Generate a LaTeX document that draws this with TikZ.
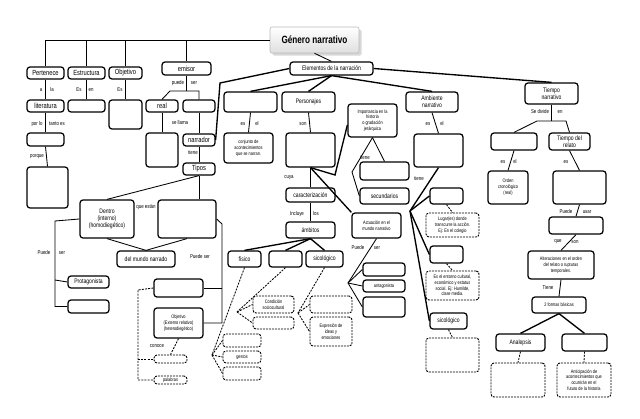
\documentclass[tikz,border=0pt]{standalone}
\usepackage{fontspec}
\setmainfont{Liberation Sans}[FakeStretch=0.78]
\usetikzlibrary{shadows}
\newcommand\BX[7][]{%
  \pgfmathsetmacro\BXw{#5-#3}%
  \pgfmathsetmacro\BXh{#6-#4}%
  \pgfmathsetmacro\BXx{(#3+#5)/2}%
  \pgfmathsetmacro\BXy{(#4+#6)/2}%
  \node[box,minimum width=\BXw pt,minimum height=\BXh pt,#1] (#2) at (\BXx,\BXy) {#7};}
\tikzset{
 box/.style={draw, rounded corners=3pt, line width=1.25pt, align=center, inner sep=0.5pt, font=\fontsize{6.5}{7}\selectfont},
 big/.style={font=\fontsize{7.4}{8}\selectfont},
 sm/.style={font=\fontsize{5}{5.8}\selectfont},
 dbox/.style={dash pattern=on 2pt off 1pt, line width=0.95pt},
 lab/.style={font=\fontsize{5.6}{5.6}\selectfont, inner sep=0pt},
 conn/.style={line width=0.85pt},
 tconn/.style={line width=1.35pt},
 dconn/.style={line width=0.85pt, dash pattern=on 2pt off 1.2pt},
 title/.style={rounded corners=2pt, draw=gray!55, line width=0.6pt, top color=white, bottom color=gray!25, drop shadow={opacity=0.3}, font=\bfseries\fontsize{10.5}{11}\selectfont},
}
\begin{document}
\begin{tikzpicture}[x=1pt,y=-1pt]
\useasboundingbox[fill=white] (0,0) rectangle (640,419);
% ---------- boxes ----------
\BX[title]{gen}{270}{27}{359}{53}{Género narrativo}
\BX[big]{pert}{27}{67}{64}{79}{Pertenece}
\BX[big]{estr}{68}{67}{105}{79}{Estructura}
\BX[big]{obj}{109}{67}{142}{79}{Objetivo}
\BX[big]{emi}{162}{62}{211}{75}{emisor}
\BX[big]{lit}{27}{100}{64}{112}{literatura}
\BX{estr2}{68}{100}{105}{112}{}
\BX{obj2}{109}{100}{142}{129}{}
\BX[big]{real}{146}{100}{178}{112}{real}
\BX{emi2}{183}{100}{215}{112}{}
\BX{lit2}{27}{133}{64}{146}{}
\BX{lit3}{27}{167}{68}{208}{}
\BX{real2}{146}{133}{178}{167}{}
\BX[big]{narr}{183}{134}{215}{146}{narrador}
\BX[big]{tipos}{183}{163}{215}{175}{Tipos}
\BX{dentro}{80}{200}{134}{238}{Dentro\\(interno)\\(homodiegético)}
\BX{fuera}{158}{200}{216}{238}{}
\BX{mundo}{117}{251}{175}{267}{del mundo narrado}
\BX{prot}{68}{276}{109}{288}{Protagonista}
\BX{dent2}{68}{300}{109}{313}{}
\BX{fuera2}{154}{279}{203}{297}{}
\BX[sm]{objet}{154}{308}{203}{338}{Objetivo\\(Externo relativo)\\(heterodiegético)}
\BX[dbox]{d1}{154}{355}{187}{363}{}
\BX[dbox,sm]{pal}{154}{376}{187}{384}{palabras}
% elementos
\BX{elem}{290}{62}{373}{75}{Elementos de la narración}
\BX{acc}{224}{92}{277}{112}{}
\BX{pers}{282}{92}{335}{112}{Personajes}
\BX[sm]{conj}{224}{133}{273}{163}{conjunto de\\acontecimientos\\que se narran.}
\BX{pers2}{286}{133}{335}{167}{}
\BX{car}{286}{188}{335}{202}{caracterización}
\BX{ambi}{286}{222}{335}{238}{ámbitos}
\BX[sm]{imp}{348}{104}{397}{137}{Importancia en la\\historia\\o gradación\\jerárquica}
\BX{t1}{360}{162}{409}{180}{}
\BX{sec}{360}{188}{409}{204}{secundarios}
\BX[sm]{actu}{352}{213}{401}{238}{Actuación en el\\mundo narrativo}
\BX{a1}{363}{263}{405}{276}{}
\BX[sm]{ant}{363}{280}{405}{292}{antagonista}
\BX{a3}{363}{297}{405}{317}{}
\BX{fis}{228}{251}{261}{267}{físico}
\BX{mid}{269}{251}{302}{267}{}
\BX{sic}{306}{251}{343}{267}{sicológico}
\BX[dbox]{g1}{223}{334}{261}{347}{}
\BX[dbox,sm]{gest}{223}{351}{261}{363}{gestos}
\BX[dbox]{g3}{223}{367}{261}{380}{}
\BX[dbox,sm]{cond}{253}{296}{294}{313}{Condición\\sociocultural}
\BX[dbox]{c2}{253}{317}{294}{329}{}
\BX[dbox]{s1}{310}{296}{352}{313}{}
\BX[dbox,sm]{expr}{310}{317}{352}{346}{Expresión de\\ideas y\\emociones}
% ambiente
\BX{amb}{406}{92}{458}{112}{Ambiente\\narrativo}
\BX{amb2}{414}{134}{463}{167}{}
\BX{b1}{430}{188}{463}{204}{}
\BX[dbox,sm]{lugar}{426}{213}{479}{237}{Lugar(es) donde\\transcurre la acción.\\Ej: En el colegio}
\BX{b2}{430}{246}{463}{263}{}
\BX[dbox,sm]{entorno}{426}{271}{479}{300}{Es el entorno cultural,\\económico y estatus\\social. Ej: Humilde,\\clase media.}
\BX{sic2}{430}{313}{467}{329}{sicológico}
\BX[dbox]{sd}{426}{338}{479}{372}{}
% tiempo
\BX{tiem}{525}{83}{578}{104}{Tiempo\\narrativo}
\BX{tl}{491}{133}{537}{150}{}
\BX{trel}{549}{133}{590}{150}{Tiempo del\\relato}
\BX[sm]{orden}{488}{171}{528}{204}{Orden\\cronológico\\(real)}
\BX{tr2}{553}{171}{606}{204}{}
\BX{pu}{549}{217}{603}{234}{}
\BX[sm]{alt}{528}{251}{594}{279}{Alteraciones en el orden\\del relato o rupturas\\temporales.}
\BX[sm]{dos}{532}{297}{586}{313}{2 formas básicas}
\BX{ana}{496}{334}{545}{351}{Analepsis}
\BX{pro}{562}{334}{607}{351}{}
\BX[dbox]{ad}{491}{363}{545}{397}{}
\BX[dbox,sm]{antic}{557}{363}{611}{397}{Anticipación de\\acontecimientos que\\ocurrirán en el\\futuro de la historia}
% ---------- coordinates ----------
\coordinate (ev) at (186.5,91);
\coordinate (eh1) at (170,91);
\coordinate (eh2) at (199,91);
\coordinate (k3) at (220,83);
\coordinate (kd) at (55,221);
\coordinate (kd2) at (55,306.5);
\coordinate (kd3) at (55,280);
\coordinate (kf) at (222,224);
\coordinate (kf2) at (222,323);
\coordinate (kf3) at (222,288);
\coordinate (kx) at (138,290);
\coordinate (kx2) at (138,380);
\coordinate (kx3) at (138,359);
\coordinate (k1) at (335,175);
\coordinate (k2) at (352,172);
\coordinate (hubA) at (348,283);
\coordinate (hubF) at (212,355);
\coordinate (hubM) at (237,312);
\coordinate (hubS) at (298,313);
\coordinate (hubB) at (410,211);
\coordinate (tv) at (551.5,121);
\coordinate (ta) at (537,121);
\coordinate (tb) at (566,121);
% ---------- connectors ----------
\draw[conn] (gen.west) -- (gen.west -| pert.north) -- (pert.north);
\foreach \n in {estr,obj,emi} \draw[conn] (gen.west -| \n.north) -- (\n.north);
\draw[conn] (pert.south) -- (lit.north);
\draw[conn] (estr.south) -- (estr2.north);
\draw[conn] (obj.south) -- (obj2.north);
\draw[conn] (emi.south) -- (ev);
\draw[conn] (real.north) -- (eh1) -- (eh2) -- (emi2.north);
\draw[conn] (real.south) -- (real2.north);
\draw[conn] (emi2.south) -- (narr.north);
\draw[conn] (narr.south) -- (tipos.north);
\draw[conn] (lit.south) -- (lit2.north);
\draw[conn] (lit2.south) -- (lit3.north);
\draw[conn] (tipos.south) -- (tipos.south |- fuera.north);
\draw[conn] (tipos.south) -- (dentro.north);
\draw[conn] (dentro.south) -- (mundo.north);
\draw[conn] (fuera.south) -- (mundo.north);
\draw[conn] (dentro.west) -- (kd) -- (kd2) -- (dent2.west);
\draw[conn] (kd3) -- (prot.west);
\draw[conn] (fuera.east) -- (kf) -- (kf2) -- (objet.east);
\draw[conn] (kf3) -- (fuera2.east);
\draw[dconn] (fuera2.west) -- (kx) -- (kx2) -- (pal.west);
\draw[dconn] (kx3) -- (d1.west);
\draw[dconn] (objet.south) -- (d1.north);
% elementos
\draw[conn] (gen.south) -- (elem.north);
\draw[tconn] (elem.west) -- (k3) -- (narr.east);
\draw[tconn] (elem.south) -- (acc.north);
\draw[tconn] (elem.south) -- (pers.north);
\draw[tconn] (elem.south) -- (amb.north);
\draw[tconn] (elem.east) -- (tiem.north);
\draw[conn] (acc.south) -- (conj.north);
\draw[conn] (pers.south) -- (pers2.north);
\draw[conn] (pers2.south) -- (car.north);
\draw[conn] (car.south) -- (ambi.north);
\draw[tconn] (pers2.south) -- (k1) -- (imp.190);
\draw[tconn] (pers2.south) -- (actu.north west);
\draw[conn] (imp.south) -- (t1.north);
\draw[conn] (imp.south) -- (k2) -- (sec.west);
\draw[conn] (actu.south) -- (hubA);
\foreach \n in {a1,ant,a3} \draw[conn] (hubA) -- (\n.west);
\foreach \n in {fis,mid,sic} \draw[tconn] (ambi.south) -- (\n.north);
\draw[dconn] (fis.south) -- (hubF);
\foreach \n in {g1,gest,g3} \draw[dconn] (hubF) -- (\n.west);
\draw[dconn] (mid.south) -- (hubM);
\foreach \n in {cond,c2} \draw[dconn] (hubM) -- (\n.west);
\draw[dconn] (sic.south) -- (hubS);
\foreach \n in {s1,expr} \draw[dconn] (hubS) -- (\n.west);
% ambiente
\draw[conn] (amb.south) -- (amb2.north);
\draw[tconn] (amb2.south) -- (hubB);
\foreach \n in {b1,b2,sic2} \draw[tconn] (hubB) -- (\n.west);
\draw[dconn] (b1.south) -- (lugar.north);
\draw[dconn] (b2.south) -- (entorno.north);
\draw[dconn] (sic2.south) -- (sd.north);
% tiempo
\draw[conn] (tiem.south) -- (tv);
\draw[conn] (tl.north) -- (ta) -- (tb) -- (trel.north);
\draw[conn] (tl.south) -- (orden.north);
\draw[conn] (trel.south) -- (tr2.north);
\draw[conn] (tr2.south) -- (pu.north);
\draw[conn] (pu.south) -- (alt.north);
\draw[conn] (alt.south) -- (dos.north);
\draw[tconn] (dos.south) -- (ana.north);
\draw[tconn] (dos.south) -- (pro.north);
\draw[dconn] (ana.south) -- (ad.north);
\draw[dconn] (pro.south) -- (antic.north);
% ---------- labels ----------
\node[lab] (l1) at (41,90) {a};
\node[lab] (l2) at (52,90) {la};
\node[lab] (l3) at (79,90) {Es};
\node[lab] (l4) at (91,90) {en};
\node[lab] (l5) at (120,90) {Es};
\node[lab] (l6) at (178,83) {puede};
\node[lab] (l7) at (194,83) {ser};
\node[lab] (l8) at (37,124) {por lo};
\node[lab] (l9) at (57,124) {tanto es};
\node[lab] (l10) at (37,157) {porque};
\node[lab] (l11) at (180,123) {se llama};
\node[lab] (l12) at (193,153) {tiene};
\node[lab] (l13) at (146,207) {que están};
\node[lab] (l14) at (44,253) {Puede};
\node[lab] (l15) at (62,253) {ser};
\node[lab] (l16) at (200,257) {Puede ser};
\node[lab] (l17) at (157,346) {conoce};
\node[lab] (l18) at (243,124) {es};
\node[lab] (l19) at (257,124) {el};
\node[lab] (l20) at (303,124) {son};
\node[lab] (l21) at (289,178) {cuya};
\node[lab] (l22) at (297,214) {Incluye};
\node[lab] (l23) at (316,214) {los};
\node[lab] (l24) at (365,158) {tiene};
\node[lab] (l25) at (358,248) {Puede};
\node[lab] (l26) at (377,248) {ser};
\node[lab] (l27) at (428,124) {es};
\node[lab] (l28) at (442,124) {el};
\node[lab] (l29) at (419,179) {tiene};
\node[lab] (l30) at (540,112) {Se divide};
\node[lab] (l31) at (560,112) {en};
\node[lab] (l32) at (503,162) {es};
\node[lab] (l33) at (515,162) {el};
\node[lab] (l34) at (566,162) {es};
\node[lab] (l35) at (566,212) {Puede};
\node[lab] (l36) at (587,212) {usar};
\node[lab] (l37) at (558,242) {que};
\node[lab] (l38) at (575,242) {son};
\node[lab] (l39) at (548,287) {Tiene};
\end{tikzpicture}
\end{document}
